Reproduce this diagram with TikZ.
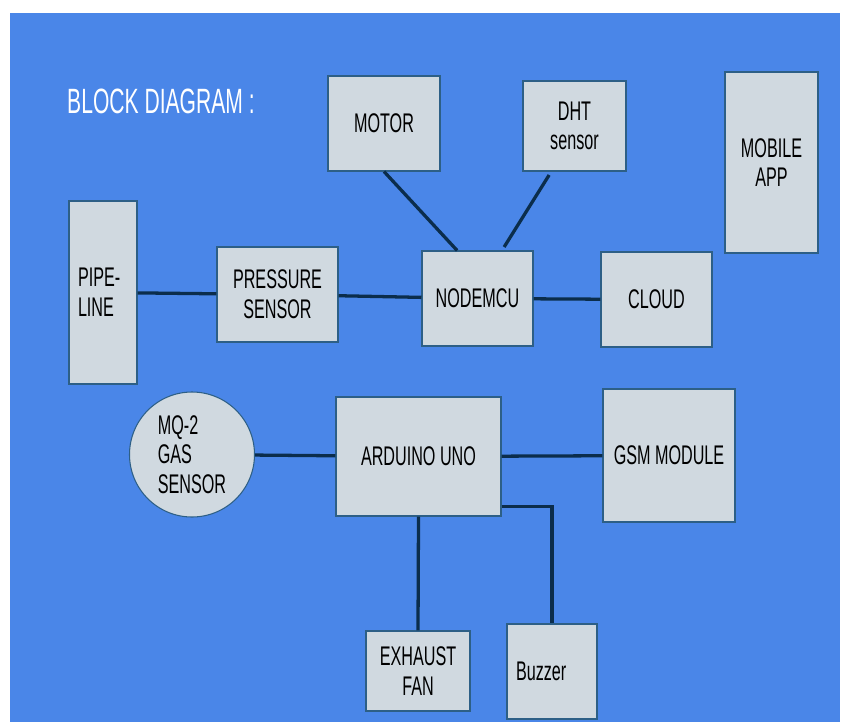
\documentclass[tikz,border=0pt]{standalone}
\usepackage{fontspec}
\setmainfont[FakeStretch=0.6]{Liberation Sans}

\definecolor{slide}{HTML}{4A86E8}
\definecolor{boxfill}{HTML}{D0D9E0}
\definecolor{boxedge}{HTML}{2D5F86}
\definecolor{wire}{HTML}{0B2D4C}
\newcommand{\pxu}{0.03cm}

\begin{document}
\begin{tikzpicture}[
        x=.03cm, y=-.03cm,
        blk/.style={draw=boxedge, line width=.9pt, fill=boxfill, text=black,
            font=\fontsize{23}{25.3}\selectfont, inner sep=0pt, align=center},
        wire/.style={line width=2.8pt, draw=wire},
        title/.style={text=white, font=\fontsize{30}{33}\selectfont, inner sep=0pt},
    ]
    %% page and slide background
    \useasboundingbox (0, 0) rectangle (844, 722);
    \fill[white] (0, 0) rectangle (844, 722);
    \fill[slide] (10, 13) rectangle (840, 722);

    \node[title, anchor=base west] (ttl) at (67, 113) {BLOCK DIAGRAM :};

    %% nodemcu side
    \node[blk, align=left, text width=50*\pxu, inner xsep=9*\pxu, minimum height=183*\pxu]
        (pipe) at (103, 292.5) {PIPE-\\LINE};
    \node[blk, minimum width=121*\pxu, minimum height=95*\pxu] (press) at (277.5, 294.5) {PRESSURE\\SENSOR};
    \node[blk, minimum width=112*\pxu, minimum height=95*\pxu] (motor) at (384, 123.5) {MOTOR};
    \node[blk, minimum width=103*\pxu, minimum height=90*\pxu] (dht) at (574.5, 126) {DHT\\sensor};
    \node[blk, minimum width=111*\pxu, minimum height=95*\pxu] (mcu) at (477.5, 298.5) {NODEMCU};
    \node[blk, minimum width=111*\pxu, minimum height=95*\pxu] (cloud) at (656.5, 299.5) {CLOUD};
    \node[blk, minimum width=93*\pxu, minimum height=181*\pxu] (app) at (771.5, 162.5) {MOBILE\\APP};

    %% arduino side
    \node[blk, circle, align=left, minimum size=125*\pxu] (gas) at (192, 454.5) {MQ-2\\GAS\\SENSOR};
    \node[blk, minimum width=165*\pxu, minimum height=119*\pxu] (uno) at (418.5, 456.5) {ARDUINO UNO};
    \node[blk, minimum width=132*\pxu, minimum height=133*\pxu] (gsm) at (669, 455.5) {GSM MODULE};
    \node[blk, minimum width=104*\pxu, minimum height=80*\pxu] (fan) at (418, 671) {EXHAUST\\FAN};
    \node[blk, align=left, text width=72*\pxu, inner xsep=9*\pxu, minimum height=95*\pxu]
        (buzz) at (552, 671.5) {Buzzer};

    %% wires
    \draw[wire] (pipe) -- (press);
    \draw[wire] (press) -- (mcu);
    \draw[wire] (mcu) -- (cloud);
    \draw[wire] (motor.south) -- (mcu.113);
    \draw[wire, shorten >=3.5pt, shorten <=3.5pt] (dht.243.4) -- (mcu.63.7);
    \draw[wire] (gas) -- (uno);
    \draw[wire] (uno) -- (gsm);
    \draw[wire] (uno.south) -- (fan.north);
    \draw[wire] (uno.-31.5) -- (buzz.north |- uno.-31.5) -- (buzz.north);
\end{tikzpicture}
\end{document}
